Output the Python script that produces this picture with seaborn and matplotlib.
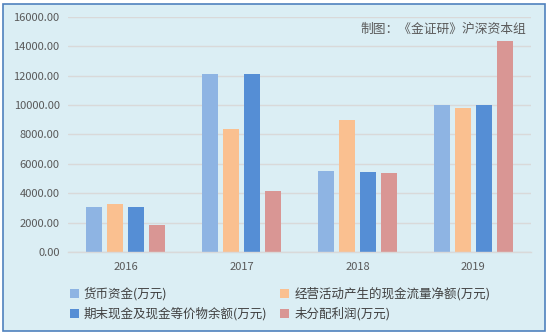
import matplotlib
matplotlib.use("Agg")
import matplotlib.pyplot as plt
import seaborn as sns
import pandas as pd
from matplotlib.patches import Rectangle
from matplotlib.ticker import FuncFormatter

years = ["2016", "2017", "2018", "2019"]
series_names = ["货币资金(万元)", "经营活动产生的现金流量净额(万元)",
                "期末现金及现金等价物余额(万元)", "未分配利润(万元)"]
cash = [3068, 12140, 5545, 10020]
op_cash_flow = [3273, 8390, 8955, 9816]
end_cash = [3068, 12140, 5477, 10020]
retained = [1841, 4159, 5409, 14365]
colors = ["#8EB4E3", "#FAC090", "#558ED5", "#D99694"]
yticks = [0, 2000, 4000, 6000, 8000, 10000, 12000, 14000, 16000]

rows = []
for name, vals in zip(series_names, [cash, op_cash_flow, end_cash, retained]):
    for y, v in zip(years, vals):
        rows.append({"year": y, "series": name, "value": v})
df = pd.DataFrame(rows)

sns.set_theme(style="white")
plt.rcParams["font.family"] = ["Noto Sans CJK SC", "DejaVu Sans"]

W, H = 548, 334
fig = plt.figure(figsize=(W / 100, H / 100), dpi=100, facecolor="white")
fig.patches.append(Rectangle((3 / W, 3 / H), 542 / W, 327 / H, transform=fig.transFigure,
                             facecolor="#DBEEF4", edgecolor="#4F81BD", linewidth=1.2, zorder=-10))

ax = fig.add_axes([68 / W, 1 - 252 / H, 463 / W, 235 / H])
ax.set_facecolor("none")

sns.barplot(data=df, x="year", y="value", hue="series", hue_order=series_names,
            palette=colors, width=0.726, gap=0.24, saturation=1, ax=ax,
            legend=True, errorbar=None, linewidth=0, edgecolor="none")

ax.set_ylim(0, 16000)
ax.set_yticks(yticks)
ax.yaxis.set_major_formatter(FuncFormatter(lambda v, p: f"{v:.2f}"))
ax.yaxis.grid(True, color="#D9D9D9", linewidth=1)
ax.set_axisbelow(True)
for s in ["top", "right", "left"]:
    ax.spines[s].set_visible(False)
ax.spines["bottom"].set_color("#D9D9D9")
ax.spines["bottom"].set_linewidth(1)
ax.tick_params(axis="both", length=0, labelsize=8, labelcolor="#595959")
ax.tick_params(axis="y", pad=6)
ax.tick_params(axis="x", pad=7)
ax.set_xlabel("")
ax.set_ylabel("")

handles, labels = ax.get_legend_handles_labels()
ax.get_legend().remove()
order = [0, 2, 1, 3]
fig.legend([handles[i] for i in order], [labels[i] for i in order],
           loc="upper left", bbox_to_anchor=(70 / W, 1 - 287 / H),
           ncol=2, frameon=False, fontsize=9, labelcolor="#404040",
           handlelength=0.7, handleheight=0.7, handletextpad=0.4,
           columnspacing=1.05, labelspacing=0.55, borderaxespad=0, borderpad=0)

ax.text(0.99, 0.975, "制图：《金证研》沪深资本组", transform=ax.transAxes,
        ha="right", va="top", fontsize=9.2, color="#595959")

fig.savefig("out.png", dpi=100, facecolor="white")
